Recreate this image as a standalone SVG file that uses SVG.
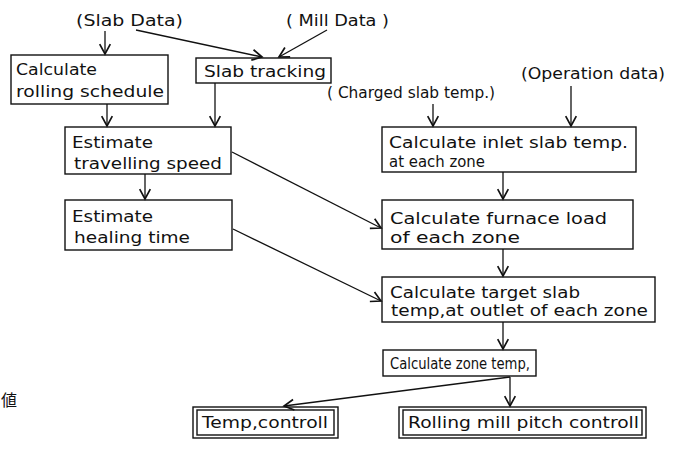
<svg xmlns="http://www.w3.org/2000/svg" width="674" height="459" viewBox="0 0 674 459">
  <style>
    text { font-family: "DejaVu Sans", "Liberation Sans", sans-serif; font-size: 16.5px; fill: #111; }
    .box { fill: #fff; stroke: #111; stroke-width: 1.4; }
    .edge { fill: none; stroke: #111; stroke-width: 1.3; marker-end: url(#head); }
    .cjk { font-family: "Noto Sans CJK JP", sans-serif; font-size: 16px; }
  </style>
  <defs>
    <marker id="head" markerUnits="userSpaceOnUse" markerWidth="14" markerHeight="14" viewBox="-8 -5 10 10" refX="0" refY="0" orient="auto">
      <path d="M-7,-3.8 L0,0 L-7,3.8" fill="none" stroke="#111" stroke-width="1.2"/>
    </marker>
  </defs>
  <rect width="674" height="459" fill="#fff"/>

  <!-- data sources -->
  <g id="slab-data"><text x="76" y="26" textLength="107" lengthAdjust="spacingAndGlyphs">(Slab Data)</text></g>
  <g id="mill-data"><text x="286" y="26" textLength="103" lengthAdjust="spacingAndGlyphs">( Mill  Data )</text></g>
  <g id="charged-temp"><text x="327" y="98" textLength="168" lengthAdjust="spacingAndGlyphs">( Charged slab temp.)</text></g>
  <g id="operation-data"><text x="521" y="79" textLength="144" lengthAdjust="spacingAndGlyphs">(Operation data)</text></g>

  <!-- process boxes -->
  <g id="rolling-schedule">
    <rect class="box" x="11" y="55" width="157" height="49"/>
    <text x="16" y="75" textLength="81" lengthAdjust="spacingAndGlyphs">Calculate</text>
    <text x="16" y="97" textLength="148" lengthAdjust="spacingAndGlyphs">rolling schedule</text>
  </g>
  <g id="slab-tracking">
    <rect class="box" x="196" y="58" width="135" height="25"/>
    <text x="204" y="77" textLength="122" lengthAdjust="spacingAndGlyphs">Slab tracking</text>
  </g>
  <g id="travelling-speed">
    <rect class="box" x="65" y="127" width="166" height="47"/>
    <text x="72" y="148" textLength="81" lengthAdjust="spacingAndGlyphs">Estimate</text>
    <text x="74" y="169" textLength="148" lengthAdjust="spacingAndGlyphs">travelling speed</text>
  </g>
  <g id="heating-time">
    <rect class="box" x="65" y="200" width="167" height="50"/>
    <text x="72" y="222" textLength="81" lengthAdjust="spacingAndGlyphs">Estimate</text>
    <text x="74" y="243" textLength="116" lengthAdjust="spacingAndGlyphs">healing time</text>
  </g>
  <g id="inlet-temp">
    <rect class="box" x="382" y="127" width="254" height="45"/>
    <text x="389" y="148" textLength="239" lengthAdjust="spacingAndGlyphs">Calculate inlet slab temp.</text>
    <text x="389" y="167" textLength="96" lengthAdjust="spacingAndGlyphs">at each zone</text>
  </g>
  <g id="furnace-load">
    <rect class="box" x="382" y="200" width="251" height="49"/>
    <text x="390" y="224" textLength="217" lengthAdjust="spacingAndGlyphs">Calculate furnace load</text>
    <text x="390" y="243" textLength="130" lengthAdjust="spacingAndGlyphs">of each zone</text>
  </g>
  <g id="target-temp">
    <rect class="box" x="382" y="277" width="273" height="45"/>
    <text x="390" y="298" textLength="190" lengthAdjust="spacingAndGlyphs">Calculate target slab</text>
    <text x="391" y="316" textLength="257" lengthAdjust="spacingAndGlyphs">temp,at outlet of each zone</text>
  </g>
  <g id="zone-temp">
    <rect class="box" x="383" y="350" width="153" height="26"/>
    <text x="390" y="369" textLength="140" lengthAdjust="spacingAndGlyphs">Calculate zone temp,</text>
  </g>
  <g id="temp-control">
    <rect class="box" x="193" y="407" width="145" height="31"/>
    <rect class="box" x="197" y="410" width="137" height="25"/>
    <text x="202" y="428" textLength="126" lengthAdjust="spacingAndGlyphs">Temp,controll</text>
  </g>
  <g id="pitch-control">
    <rect class="box" x="399" y="407" width="247" height="31"/>
    <rect class="box" x="403" y="410" width="239" height="25"/>
    <text x="408" y="428" textLength="231" lengthAdjust="spacingAndGlyphs">Rolling mill pitch controll</text>
  </g>

  <!-- margin character -->
  <text class="cjk" x="1" y="406">値</text>

  <!-- connectors -->
  <g id="connectors">
    <path class="edge" d="M105,31 L105,54"/>
    <path class="edge" d="M136,30 L262,57"/>
    <path class="edge" d="M327,30 L279,57"/>
    <path class="edge" d="M107,104 L107,126"/>
    <path class="edge" d="M215,83 L215,126"/>
    <path class="edge" d="M145,174 L145,199"/>
    <path class="edge" d="M232,152 L381,228"/>
    <path class="edge" d="M233,229 L381,301"/>
    <path class="edge" d="M433,104 L433,126"/>
    <path class="edge" d="M571,86 L571,126"/>
    <path class="edge" d="M503,172 L503,199"/>
    <path class="edge" d="M503,249 L503,276"/>
    <path class="edge" d="M503,322 L503,349"/>
    <path class="edge" d="M510,377 L284,406"/>
    <path class="edge" d="M510,377 L510,406"/>
  </g>
</svg>
